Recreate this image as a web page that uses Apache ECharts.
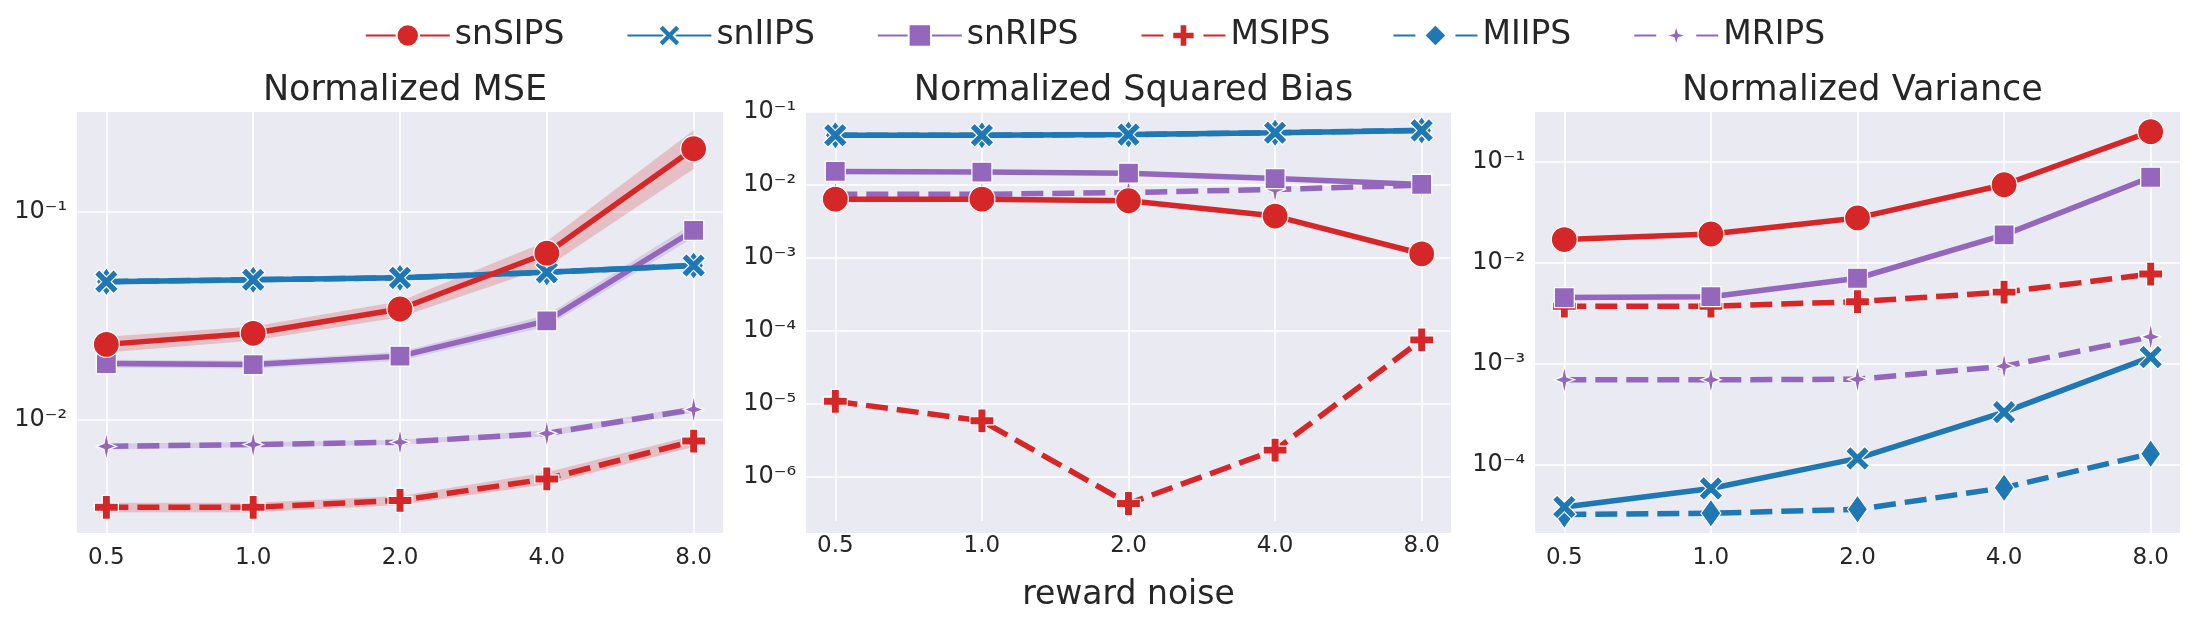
<!DOCTYPE html>
<html>
<head>
<meta charset="utf-8">
<script src="https://cdn.jsdelivr.net/npm/echarts@6/dist/echarts.min.js"></script>
<style>html,body{margin:0;padding:0;background:#fff}#main{width:2190px;height:617px}</style>
</head>
<body>
<div id="main"></div>
<script>
var noise = ['0.5', '1.0', '2.0', '4.0', '8.0'];
var names = ['snSIPS', 'snIIPS', 'snRIPS', 'MSIPS', 'MIIPS', 'MRIPS'];

// Normalized MSE
var mseSnSIPS = [0.023, 0.026, 0.034, 0.063, 0.20];
var mseSnIIPS = [0.046, 0.047, 0.048, 0.051, 0.055];
var mseSnRIPS = [0.0186, 0.0184, 0.0202, 0.0298, 0.081];
var mseMSIPS = [0.0038, 0.0038, 0.0041, 0.0052, 0.0079];
var mseMIIPS = [0.046, 0.047, 0.048, 0.051, 0.055];
var mseMRIPS = [0.00745, 0.0076, 0.0078, 0.0086, 0.0112];
// confidence bands (MSE panel)
var bandSnSIPSLo = [0.021, 0.024, 0.031, 0.054, 0.16];
var bandSnSIPSHi = [0.025, 0.028, 0.037, 0.072, 0.245];
var bandSnRIPSLo = [0.0178, 0.0176, 0.0192, 0.028, 0.075];
var bandSnRIPSHi = [0.0194, 0.0192, 0.0212, 0.0318, 0.088];
var bandMSIPSLo = [0.0036, 0.0036, 0.0039, 0.0049, 0.0074];
var bandMSIPSHi = [0.0040, 0.0040, 0.0043, 0.0056, 0.0084];
var bandMRIPSLo = [0.0072, 0.0074, 0.0076, 0.0083, 0.0108];
var bandMRIPSHi = [0.0077, 0.0078, 0.0080, 0.0089, 0.0116];

// Normalized Squared Bias
var biasSnSIPS = [0.0059, 0.0059, 0.0056, 0.0034, 0.0010];
var biasSnIIPS = [0.047, 0.047, 0.048, 0.051, 0.055];
var biasSnRIPS = [0.0145, 0.0142, 0.0137, 0.0115, 0.0095];
var biasMSIPS = [8.3e-6, 4.4e-6, 3.0e-7, 1.7e-6, 6.1e-5];
var biasMIIPS = [0.047, 0.047, 0.048, 0.051, 0.055];
var biasMRIPS = [0.0069, 0.0069, 0.0073, 0.0081, 0.0093];

// Normalized Variance
var varSnSIPS = [0.0169, 0.0192, 0.0277, 0.059, 0.198];
var varSnIIPS = [3.8e-5, 5.8e-5, 1.15e-4, 3.3e-4, 1.16e-3];
var varSnRIPS = [0.0045, 0.0046, 0.0070, 0.0188, 0.070];
var varMSIPS = [0.0037, 0.0037, 0.0041, 0.0051, 0.0077];
var varMIIPS = [3.2e-5, 3.3e-5, 3.6e-5, 5.9e-5, 1.28e-4];
var varMRIPS = [0.00069, 0.00069, 0.0007, 0.00094, 0.00184];

var titles = ['Normalized MSE', 'Normalized Squared Bias', 'Normalized Variance'];
var yMin = [0.00286, 1.7e-7, 2.1e-5];
var yMax = [0.30, 0.1, 0.31];
var panels = [
  [mseSnSIPS, mseSnIIPS, mseSnRIPS, mseMSIPS, mseMIIPS, mseMRIPS],
  [biasSnSIPS, biasSnIIPS, biasSnRIPS, biasMSIPS, biasMIIPS, biasMRIPS],
  [varSnSIPS, varSnIIPS, varSnRIPS, varMSIPS, varMIIPS, varMRIPS]
];

var RED = '#d62728', BLUE = '#1f77b4', PURPLE = '#9467bd';
var colors = [RED, BLUE, PURPLE, RED, BLUE, PURPLE];
var X_PATH = 'path://M0,2 L2,0 L5,3 L8,0 L10,2 L7,5 L10,8 L8,10 L5,7 L2,10 L0,8 L3,5Z';
var PLUS_PATH = 'path://M3.3,0 H6.7 V3.3 H10 V6.7 H6.7 V10 H3.3 V6.7 H0 V3.3 H3.3Z';
var STAR_PATH = 'path://M5,0 L6.1,3.9 L10,5 L6.1,6.1 L5,10 L3.9,6.1 L0,5 L3.9,3.9Z';
var symbols = ['circle', X_PATH, 'rect', PLUS_PATH, 'diamond', STAR_PATH];
var sizes = [26, 24, 20, 24, [20, 28], [20, 28]];
var dashed = [false, false, false, true, true, true];

var lefts = [77, 806, 1535];
var widths = [646, 645, 645];
var sup = {'0': '⁰', '1': '¹', '2': '²', '3': '³', '4': '⁴', '5': '⁵', '6': '⁶', '7': '⁷', '8': '⁸', '9': '⁹', '-': '⁻'};
var font = 'DejaVu Sans';

function logLabel(v) {
  var e = Math.log10(v);
  if (Math.abs(e - Math.round(e)) > 1e-6) return '';
  return '10' + String(Math.round(e)).split('').map(function (c) { return sup[c]; }).join('');
}

var grids = [], xAxes = [], yAxes = [], series = [], titleList = [];
panels.forEach(function (p, k) {
  var step = widths[k] / 4.4;
  // background grid (index 2k): full panel, horizontal grid lines + y labels
  grids.push({left: lefts[k], width: widths[k], top: 112, height: 421, show: true,
    backgroundColor: '#eaeaf2', borderWidth: 0});
  // data grid (index 2k+1): spans first to last x category
  grids.push({left: lefts[k] + 0.2 * step, width: 4 * step, top: 112, height: 421, show: false});
  titleList.push({text: titles[k], left: lefts[k] + widths[k] / 2, top: 68, textAlign: 'center',
    textStyle: {fontFamily: font, fontSize: 35, fontWeight: 'normal', color: '#262626'}});

  xAxes.push({type: 'value', gridIndex: 2 * k, min: 0, max: 1, show: false});
  yAxes.push({type: 'log', logBase: 10, gridIndex: 2 * k, min: yMin[k], max: yMax[k],
    axisLine: {show: false}, axisTick: {show: false},
    splitLine: {show: true, showMinLine: false, showMaxLine: false, lineStyle: {color: '#fff', width: 1.5}},
    axisLabel: {fontFamily: font, fontSize: 24, color: '#262626', margin: 10,
      showMinLabel: false, showMaxLabel: false, formatter: logLabel}});

  xAxes.push({type: 'value', gridIndex: 2 * k + 1, min: 0, max: 4, interval: 1,
    axisLine: {show: false}, axisTick: {show: false},
    splitLine: {show: true, lineStyle: {color: '#fff', width: 1.5}},
    axisLabel: {fontFamily: font, fontSize: 23, color: '#262626', margin: 14,
      formatter: function (v) { return noise[Math.round(v)] || ''; }},
    name: k === 1 ? 'reward noise' : '', nameLocation: 'middle', nameGap: 58,
    nameTextStyle: {fontFamily: font, fontSize: 33, color: '#262626'}});
  yAxes.push({type: 'log', logBase: 10, gridIndex: 2 * k + 1, min: yMin[k], max: yMax[k], show: false,
    splitLine: {show: false}});

  p.forEach(function (vals, s) {
    series.push({
      name: names[s], type: 'line', xAxisIndex: 2 * k + 1, yAxisIndex: 2 * k + 1, z: 3 + (5 - s),
      data: vals.map(function (v, i) { return [i, v]; }),
      symbol: symbols[s], symbolSize: sizes[s], showSymbol: true,
      lineStyle: {width: 5.5, color: colors[s], type: dashed[s] ? [22, 9] : 'solid'},
      itemStyle: {color: colors[s], borderColor: '#fff', borderWidth: 1.2},
      emphasis: {disabled: true}
    });
  });
});

function band(lo, hi, color) {
  return {
    type: 'custom', xAxisIndex: 1, yAxisIndex: 1, z: 1, silent: true,
    data: lo.map(function (v, i) { return [i, v, hi[i]]; }),
    renderItem: function (params, api) {
      var i = params.dataIndex;
      if (i >= lo.length - 1) return null;
      var pts = [api.coord([i, lo[i]]), api.coord([i + 1, lo[i + 1]]),
                 api.coord([i + 1, hi[i + 1]]), api.coord([i, hi[i]])];
      return {type: 'polygon', shape: {points: pts}, style: {fill: color, opacity: 0.22}};
    }
  };
}
series.push(band(bandSnSIPSLo, bandSnSIPSHi, RED));
series.push(band(bandSnRIPSLo, bandSnRIPSHi, PURPLE));
series.push(band(bandMSIPSLo, bandMSIPSHi, RED));
series.push(band(bandMRIPSLo, bandMRIPSHi, PURPLE));

var myChart = echarts.init(document.getElementById('main'));
myChart.setOption({
  animation: false,
  title: titleList,
  legend: {
    data: names, top: 14, left: 'center', itemWidth: 84, itemHeight: 28, itemGap: 62,
    textStyle: {fontFamily: font, fontSize: 33, color: '#262626'}
  },
  grid: grids,
  xAxis: xAxes,
  yAxis: yAxes,
  series: series
});
</script>
</body>
</html>
